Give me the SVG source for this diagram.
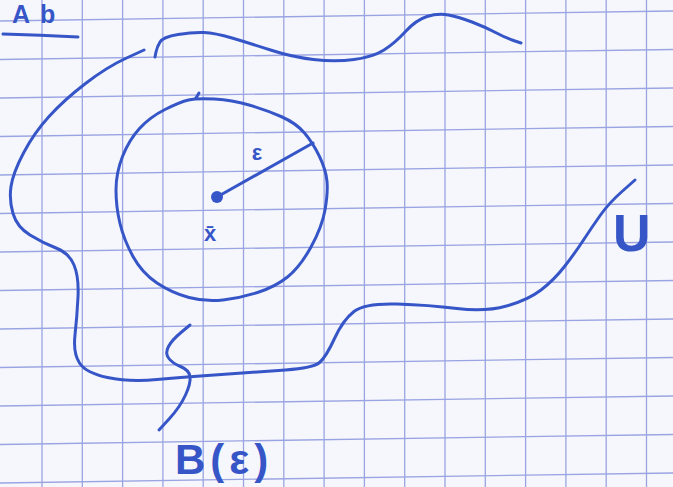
<svg xmlns="http://www.w3.org/2000/svg" width="673" height="487" viewBox="0 0 673 487">
<defs>
<style>
.grid line{stroke:#9aa4e2;stroke-width:1.3}
.ink{fill:none;stroke:#3656c8;stroke-width:3;stroke-linecap:round;stroke-linejoin:round}
.lbl{font-family:"Liberation Sans",Arial,sans-serif;fill:#3656c8}
</style>
</defs>
<rect width="673" height="487" fill="#f6f7fc"/>
<g class="grid" id="grid">
<line x1="42" y1="0" x2="42" y2="487"/>
<line x1="82.3" y1="0" x2="82.3" y2="487"/>
<line x1="122.6" y1="0" x2="122.6" y2="487"/>
<line x1="162.9" y1="0" x2="162.9" y2="487"/>
<line x1="203.2" y1="0" x2="203.2" y2="487"/>
<line x1="243.5" y1="0" x2="243.5" y2="487"/>
<line x1="283.8" y1="0" x2="283.8" y2="487"/>
<line x1="324.1" y1="0" x2="324.1" y2="487"/>
<line x1="364.4" y1="0" x2="364.4" y2="487"/>
<line x1="404.7" y1="0" x2="404.7" y2="487"/>
<line x1="445" y1="0" x2="445" y2="487"/>
<line x1="485.3" y1="0" x2="485.3" y2="487"/>
<line x1="525.6" y1="0" x2="525.6" y2="487"/>
<line x1="565.9" y1="0" x2="565.9" y2="487"/>
<line x1="606.2" y1="0" x2="606.2" y2="487"/>
<line x1="646.5" y1="0" x2="646.5" y2="487"/>
<line x1="0" y1="21" x2="673" y2="11"/>
<line x1="0" y1="59.5" x2="673" y2="49.5"/>
<line x1="0" y1="98" x2="673" y2="88"/>
<line x1="0" y1="136.5" x2="673" y2="126.5"/>
<line x1="0" y1="175" x2="673" y2="165"/>
<line x1="0" y1="213.5" x2="673" y2="203.5"/>
<line x1="0" y1="252" x2="673" y2="242"/>
<line x1="0" y1="290.5" x2="673" y2="280.5"/>
<line x1="0" y1="329" x2="673" y2="319"/>
<line x1="0" y1="367.5" x2="673" y2="357.5"/>
<line x1="0" y1="406" x2="673" y2="396"/>
<line x1="0" y1="444.5" x2="673" y2="434.5"/>
<line x1="0" y1="483" x2="673" y2="473"/>
</g>
<g id="title">
<text class="lbl" x="12" y="23" font-size="25" font-weight="bold" letter-spacing="10">Ab</text>
<path class="ink" d="M3,34 Q40,35 78,37" stroke-width="2.6"/>
</g>
<g id="region-U">
<path class="ink" d="M144,50 L125.5,58.5 Q107,67 85.5,83.5 Q64,100 49,116.5 Q34,133 23.5,153 Q13,173 11,186.5 Q9,200 13,213.5 Q17,227 30,235 Q43,243 56,248 Q69,253 74,265 Q79,277 78,297 Q77,317 75,335 Q73,353 79.5,363 Q86,373 107.5,377.5 Q129,382 157,379.5 Q185,377 221.5,374.5 Q258,372 285.5,370 Q313,368 319.5,362.5 Q326,357 334.5,338.5 Q343,320 354,311.5 Q365,303 397,304 Q429,305 457,308.5 Q485,312 506.5,306 Q528,300 541,290 Q554,280 564.5,266.5 Q575,253 583.5,240 Q592,227 600.5,215 Q609,203 622,191.5 L635,180" stroke-width="2.4"/>
<path class="ink" d="M155,57 L156,52 Q157,47 160,42 Q163,37 178,34.5 Q193,32 204,32.5 Q215,33 232,38 Q249,43 270.5,50 Q292,57 313.5,59.5 Q335,62 354,59.5 Q373,57 384,50 Q395,43 405.5,31.5 Q416,20 427,16.5 Q438,13 448.5,15 Q459,17 472,22 Q485,27 495.5,32.5 Q506,38 513.5,40.5 L521,43" stroke-width="2.4"/>
<text class="lbl" x="613" y="251" font-size="52" font-weight="bold">U</text>
</g>
<g id="ball">
<path class="ink" d="M214.5,99 Q232,100 249,105 Q266,110 281,116.5 Q296,123 304.5,133 Q313,143 319.5,156.5 Q326,170 327,181.5 Q328,193 325,210 Q322,227 311,247 Q300,267 287.5,277 Q275,287 257.5,292.5 Q240,298 223,300 Q206,302 189,297.5 Q172,293 157,283 Q142,273 133,256.5 Q124,240 120,223.5 Q116,207 116,190 Q116,173 122.5,156.5 Q129,140 139.5,128.5 Q150,117 165,109.5 Q180,102 188.5,100 Q197,98 214.5,99 Z" stroke-width="3.2"/>
<path class="ink" d="M196,98 L199,93" stroke-width="2"/>
<path class="ink" d="M217,197 L313,143" stroke-width="2.6"/>
<circle cx="217" cy="197" r="6" fill="#3656c8"/>
<text class="lbl" x="257" y="160" font-size="22" font-weight="bold" text-anchor="middle">ε</text>
<text class="lbl" x="210" y="241" font-size="22" font-weight="bold" text-anchor="middle" font-family="DejaVu Sans, sans-serif">x̄</text>
</g>
<g id="connectors">
<path class="ink" d="M190,325 L181,332.5 Q172,340 168.5,346.5 Q165,353 168.5,358 Q172,363 180.5,366.5 Q189,370 190,376.5 Q191,383 185.5,395 Q180,407 169.5,418.5 L159,430" stroke-width="2.4"/>
</g>
<g id="label-B">
<text class="lbl" x="175" y="474" font-size="42" font-weight="bold" letter-spacing="5">B(ε)</text>
</g>
</svg>
